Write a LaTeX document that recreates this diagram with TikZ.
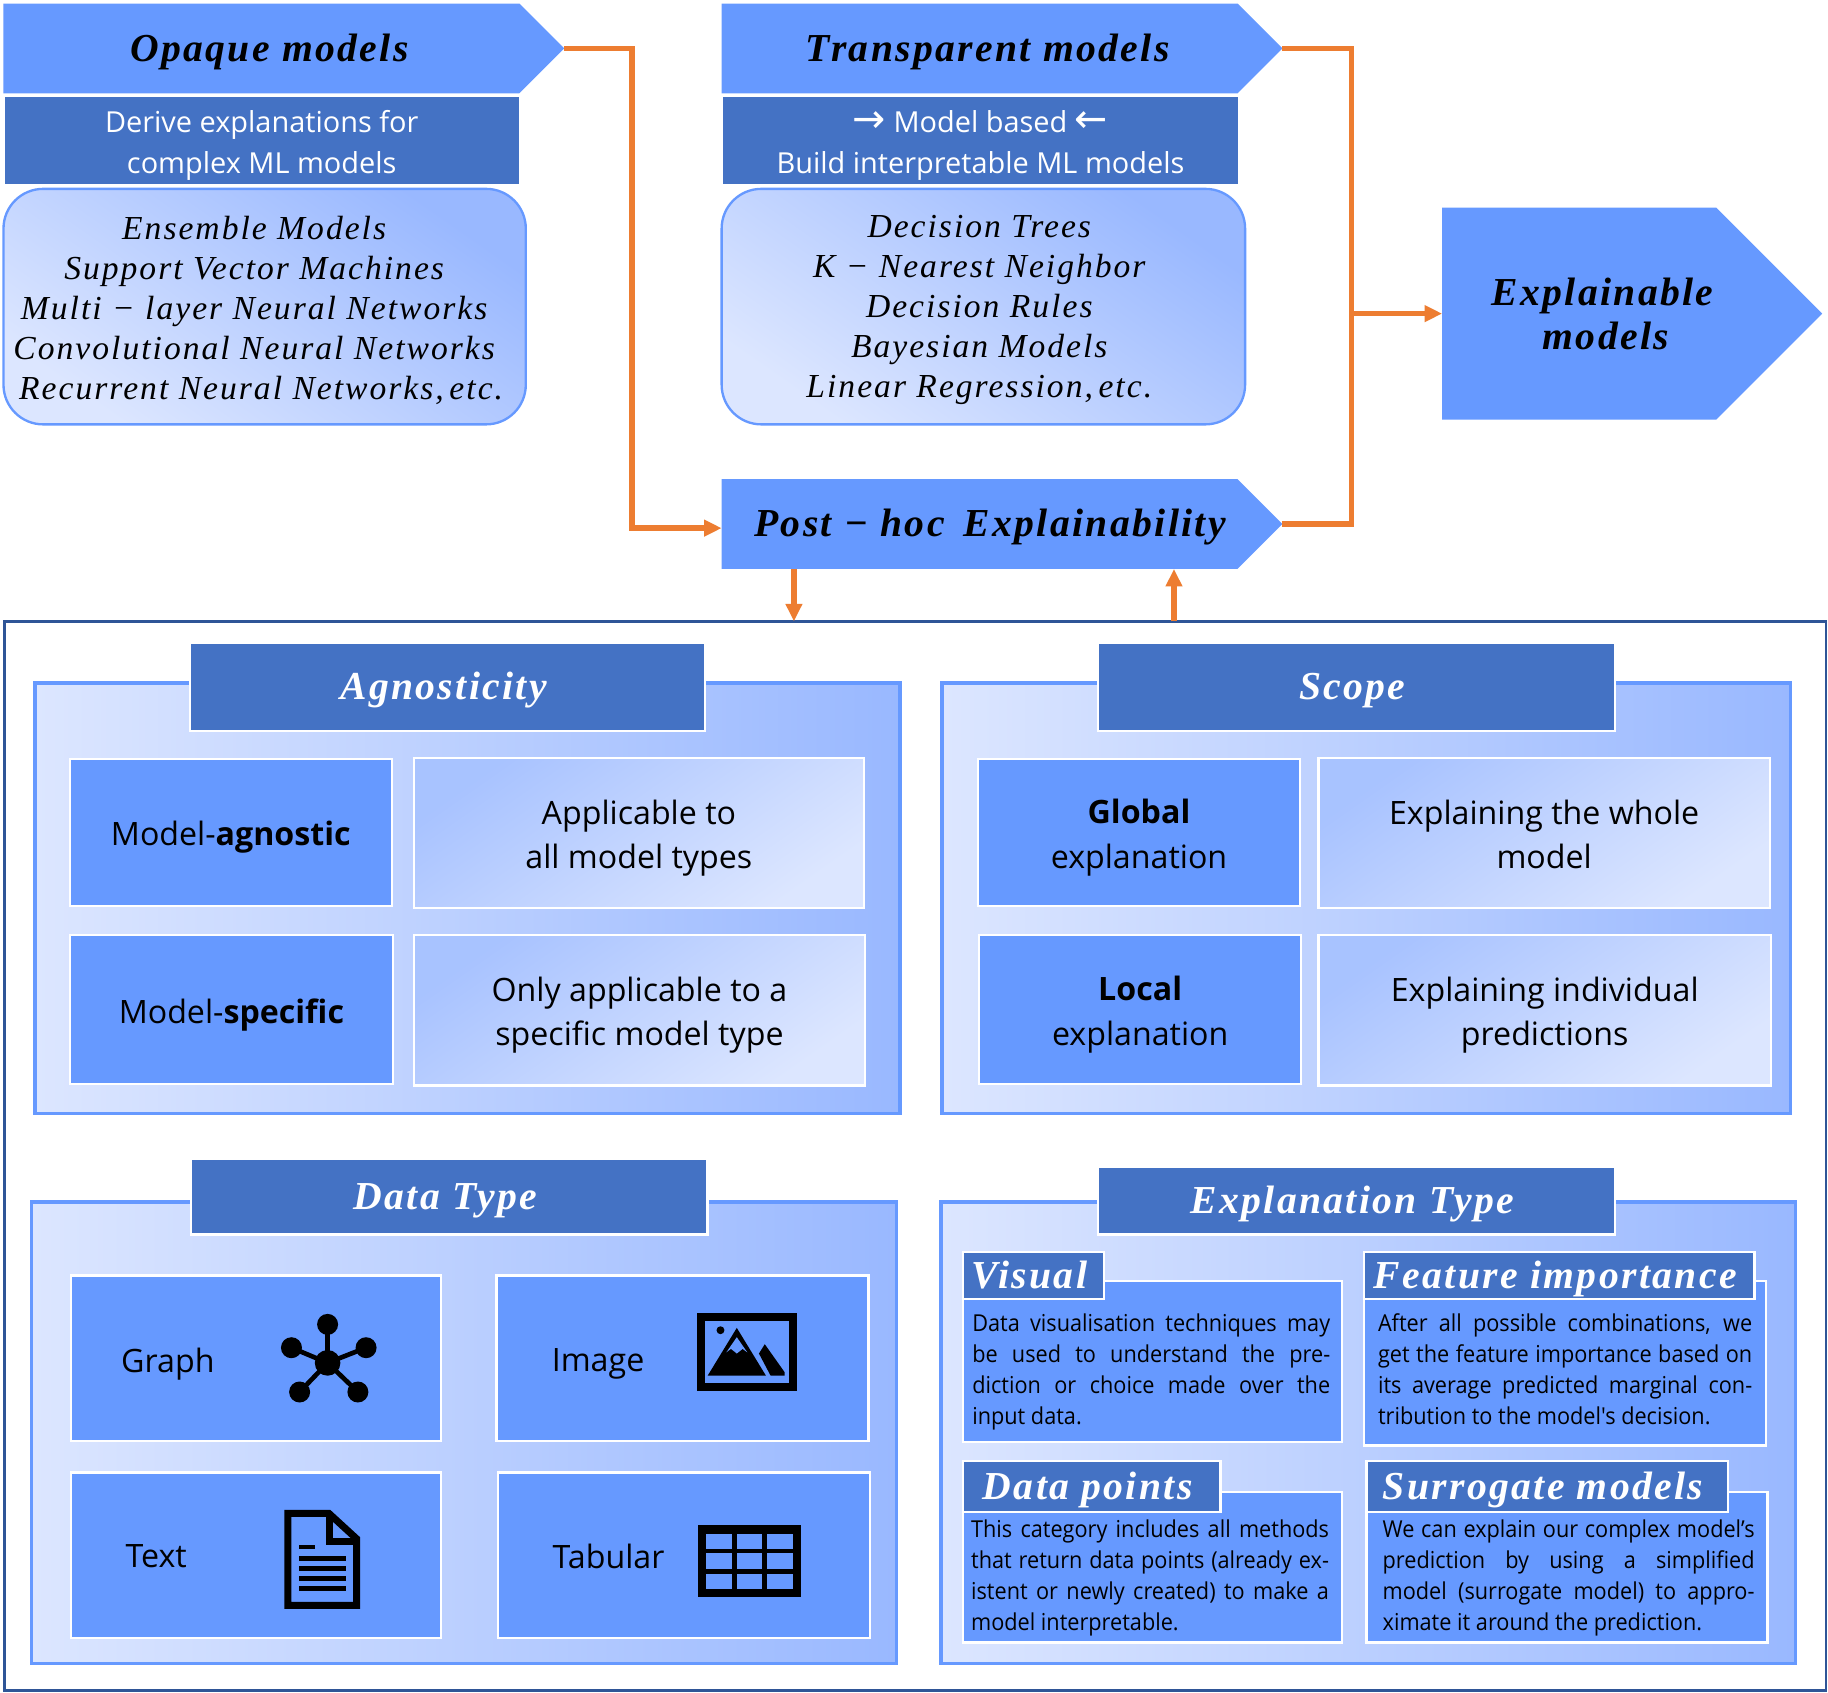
\documentclass[tikz,border=0pt]{standalone}
\usepackage{fontspec}
\setmainfont{Open Sans}
\newfontfamily\headfont[LetterSpace=6]{Liberation Serif}
\newfontfamily\cardfont[FakeStretch=0.93]{Open Sans}
\newfontfamily\arrowfont{DejaVu Sans}
\usetikzlibrary{arrows.meta, positioning, shapes.symbols, calc}
\definecolor{cblue}{HTML}{6699FF}
\definecolor{cdark}{HTML}{4472C4}
\definecolor{cedge}{HTML}{2F5597}
\definecolor{corange}{HTML}{ED7D31}
\definecolor{cpale}{HTML}{DCE6FF}
\definecolor{cmid}{HTML}{99B8FF}
\newcommand{\topk}{\rule{0pt}{17.3pt}}
\newcommand{\tops}{\rule{0pt}{15.2pt}}
\tolerance=10000
\hyphenpenalty=10000
\begin{document}
\begin{tikzpicture}[
  x=0.5pt, y=-0.5pt, >={Triangle[length=7.5pt,width=6.8pt]},
  sz/.style 2 args={minimum width=#1*0.5pt, minimum height=#2*0.5pt},
  boxn/.style={rectangle, anchor=north west, inner sep=0pt, outer sep=0pt, align=center},
  hd/.style={font=\headfont\bfseries\itshape\fontsize{17}{19}\selectfont},
  hl/.style={text height=15pt, text depth=4pt},
  lpad/.style={execute at begin node={\hspace*{#1}}},
  sg/.style={signal, signal to=east, signal pointer angle=90, fill=cblue, inner sep=0pt, outer sep=0pt, anchor=west, align=center, hd},
  sub/.style={boxn, fill=cdark, text=white, font=\fontsize{12.4}{17.2}\selectfont, execute at end node={\rule[-4.5pt]{0pt}{4.5pt}}},
  lst/.style={boxn, draw=cblue, line width=1pt, rounded corners=17pt, left color=cpale, right color=cmid, shading angle=145},
  lstx/.style={inner sep=0pt, align=center, font=\headfont\itshape\fontsize{14.4}{17.15}\selectfont},
  panel/.style={boxn, draw=cblue, line width=1.5pt, left color=cpale, right color=cmid},
  ttl/.style={boxn, fill=cdark, draw=white, line width=1pt, text=white, hd, hl, execute at end node={\hspace*{3.5pt}}},
  kb/.style={boxn, fill=cblue, draw=white, line width=1pt, font=\fontsize{13.8}{19}\selectfont, execute at end node={\rule[-5.7pt]{0pt}{5.7pt}}},
  db/.style={boxn, draw=white, line width=1pt, left color=cmid!85, right color=cpale, shading angle=35, font=\fontsize{13.8}{19}\selectfont, execute at end node={\rule[-5.7pt]{0pt}{5.7pt}}},
  crd/.style={boxn, fill=cblue, draw=white, line width=1pt},
  ctx/.style={anchor=north west, inner sep=0pt, outer sep=0pt, text width=153.5pt, align=justify, font=\cardfont\fontsize{10}{13.25}\selectfont},
  ctw/.style={ctx, text width=159.5pt},
  dlb/.style={font=\fontsize{13.8}{19}\selectfont},
  flow/.style={draw=corange, line width=2.3pt}]
\path[use as bounding box, fill=white] (0,0) rectangle (1568,1452);
% top row
\node[sg, hl, lpad=7pt, sz={481}{77}] (opq) at (3,41.5) {Opaque models};
\node[sub, sz={441}{75}, below=1.5pt of opq.south west, anchor=north west, xshift=0.5pt] (der) {\tops Derive explanations for\\complex ML models};
\node[lst, sz={448}{202}] (opl) at (3,162) {};
\node[lstx] (oplx) at (218,266) {Ensemble Models\\Support Vector Machines\\Multi − layer Neural Networks\\Convolutional Neural Networks\\\hspace*{6pt}Recurrent Neural Networks,\,etc.};
\node[sg, hl, lpad=7pt, sz={481}{77}] (trp) at (619,41.5) {Transparent models};
\node[sub, sz={442}{75}, below=1.5pt of trp.south west, anchor=north west, xshift=0.5pt] (mbd) {\tops{\arrowfont\fontsize{17}{17.2}\selectfont →} Model based {\arrowfont\fontsize{17}{17.2}\selectfont ←}\\Build interpretable ML models};
\node[lst, sz={449}{202}] (trl) at (619,162) {};
\node[lstx] (trlx) at (840,266) {Decision Trees\\K − Nearest Neighbor\\Decision Rules\\Bayesian Models\\Linear Regression,\,etc.};
\node[sg, hl, lpad=9pt, sz={481}{77}] (post) at (619,449.5) {Post − hoc\ \,Explainability};
\node[sg, sz={326}{182}] (exm) at (1237,269) {\hspace*{20pt}Explainable\\\hspace*{23pt}models};
% frame and panels
\node[boxn, draw=cedge, line width=1pt, sz={1562}{917}] (frm) at (4,533) {};
\node[panel, sz={742}{369}] (agp) at (30,586) {};
\node[ttl, sz={442}{76}] (agt) at (163,551) {Agnosticity};
\node[kb, sz={276}{126}] (agn) at (60,651) {\topk Model-\textbf{agnostic}};
\node[db, sz={386}{129}] (agd) at (355,650) {\topk Applicable to\\all model types};
\node[kb, sz={277}{128}] (spc) at (60,802) {\topk Model-\textbf{specific}};
\node[db, sz={387}{129}] (spd) at (355,802) {\topk Only applicable to a\\specific model type};
\node[panel, sz={728}{369}] (scp) at (808,586) {};
\node[ttl, sz={443}{76}] (sct) at (942,551) {Scope};
\node[kb, sz={276}{126}] (glb) at (839,651) {\topk\textbf{Global}\\explanation};
\node[db, sz={387}{129}] (gld) at (1131,650) {\topk Explaining the whole\\model};
\node[kb, sz={276}{128}] (lcl) at (840,802) {\topk\textbf{Local}\\explanation};
\node[db, sz={388}{129}] (lcd) at (1131,802) {\topk Explaining individual\\predictions};
\node[panel, sz={742}{396}] (dtp) at (27,1031) {};
\node[ttl, sz={443}{65}] (dtt) at (164,994) {Data Type};
\node[panel, sz={733}{396}] (exp) at (807,1031) {};
\node[ttl, sz={443}{58}] (ext) at (942,1001) {Explanation Type};
% data type boxes
\node[crd, sz={317}{142}] (grb) at (61,1094) {};
\node[crd, sz={319}{142}] (imb) at (426,1094) {};
\node[crd, sz={317}{142}] (txb) at (61,1263) {};
\node[crd, sz={319}{142}] (tab) at (427,1263) {};
\node[dlb] (grl) at (144,1170) {Graph};
\node[dlb] (iml) at (513,1170) {Image};
\node[dlb] (txl) at (134,1335) {Text};
\node[dlb] (tbl) at (522,1335) {Tabular};
% graph icon
\foreach \px/\py in {281/1136, 314/1156, 307/1194, 257/1194, 250/1156} {
  \draw[line width=2pt] (281,1169) -- (\px,\py);
  \fill (\px,\py) circle (4.5pt);
}
\fill (281,1169) circle (5.5pt);
% image icon
\draw[line width=3.5pt] (601.5,1129.5) rectangle (680.5,1189.5);
\fill (618,1141) circle (1.7pt);
\fill (632,1139) -- (657,1180) -- (607,1180) -- cycle;
\fill[cblue] (632,1147) -- (641,1160) -- (637,1157) -- (632,1161) -- (627,1157) -- (623,1160) -- cycle;
\fill (656,1153) -- (673,1177) -- (673,1180) -- (661,1180) -- (651,1161) -- cycle;
% text icon
\draw[line width=3pt] (247,1298) -- (282,1298) -- (306,1320) -- (306,1377) -- (247,1377) -- cycle;
\draw[line width=3pt] (283,1298) -- (283,1322) -- (306,1322);
\fill (256.5,1325) rectangle (270,1329);
\foreach \py in {1337, 1345.5, 1354, 1362.5} {
  \fill (256.5,\py-2) rectangle (297,\py+2);
}
% table icon
\draw[line width=3.5pt] (602.5,1312) rectangle (683.5,1366.5);
\draw[line width=2pt] (630,1312) -- (630,1366.5) (656,1312) -- (656,1366.5) (602.5,1330.5) -- (683.5,1330.5) (602.5,1348) -- (683.5,1348);
% explanation type cards
\node[crd, sz={325}{138}] (vib) at (826,1099) {};
\node[ttl, sz={121}{40}] (vit) at (826,1074) {Visual};
\node[ctx] (vix) at (834,1127) {Data visualisation techniques may\linebreak be used to understand the pre-\linebreak diction or choice made over the\linebreak input data.};
\node[crd, sz={345}{141}] (feb) at (1170,1099) {};
\node[ttl, sz={335}{40}] (fet) at (1170,1074) {Feature importance};
\node[ctw, text width=160.5pt] (fex) at (1182,1127) {After all possible combinations, we\linebreak get the feature importance based on\linebreak its average predicted marginal con-\linebreak tribution to the model's decision.};
\node[crd, sz={325}{129}] (dpb) at (826,1280) {};
\node[ttl, sz={221}{44}] (dpt) at (826,1253) {Data points};
\node[ctx] (dpx) at (833,1304) {This category includes all methods\linebreak that return data points (already ex-\linebreak istent or newly created) to make a\linebreak model interpretable.};
\node[crd, sz={344}{129}] (sgb) at (1172,1280) {};
\node[ttl, sz={310}{44}] (sgt) at (1172,1253) {Surrogate models};
\node[ctw] (sgx) at (1186,1304) {We can explain our complex model’s\linebreak prediction by using a simplified\linebreak model (surrogate model) to appro-\linebreak ximate it around the prediction.};
% connectors
\coordinate (jin) at (542,453);
\coordinate (jex) at (1159,269);
\coordinate (jup) at (1159,449.5);
\coordinate (pdn) at (681,488);
\coordinate (pup) at (1007,488);
\draw[flow, ->] (opq.east) -| (jin) -- (jin -| post.west);
\draw[flow] (trp.east) -| (jup) -- (post.east);
\draw[flow, ->] (jex) -- (exm.west);
\draw[flow, ->] (pdn) -- (pdn |- frm.north);
\draw[flow, ->] (pup |- frm.north) -- (pup);
\end{tikzpicture}
\end{document}
